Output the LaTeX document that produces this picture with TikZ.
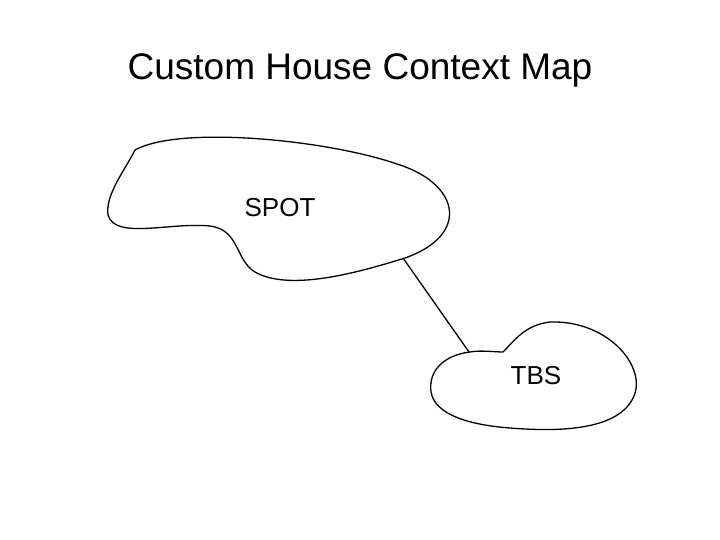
\documentclass[tikz,border=0pt]{standalone}
\usepackage{fontspec}
\setmainfont{Liberation Sans}
\begin{document}
\begin{tikzpicture}[x=1pt,y=-1pt,blob/.style={draw=black,line width=1.3pt},lbl/.style={font=\fontsize{26}{30}\selectfont}]
\useasboundingbox (0,0) rectangle (720,540);
\node[font=\fontsize{37}{44}\selectfont] (title) at (360,70) {Custom House Context Map};
\draw[blob] (135,150) .. controls (180,125) and (330,140) .. (400,165)
  .. controls (460,185) and (470,235) .. (405,258)
  .. controls (360,272) and (290,292) .. (255,272)
  .. controls (235,260) and (240,230) .. (210,226)
  .. controls (170,222) and (115,240) .. (108,215)
  .. controls (105,195) and (125,170) .. (135,150) -- cycle;
\draw[blob] (470,352) .. controls (480,350) and (495,352) .. (503,352)
  .. controls (515,340) and (525,325) .. (550,322)
  .. controls (610,320) and (650,370) .. (632,400)
  .. controls (615,430) and (560,432) .. (510,428)
  .. controls (470,425) and (435,415) .. (431,392)
  .. controls (428,370) and (445,355) .. (470,352) -- cycle;
\node[lbl] (spot) at (280,208) {SPOT};
\node[lbl] (tbs) at (536,376) {TBS};
\coordinate (a) at (403,258);
\coordinate (b) at (469,352);
\draw[line width=1.3pt] (a) -- (b);
\end{tikzpicture}
\end{document}
